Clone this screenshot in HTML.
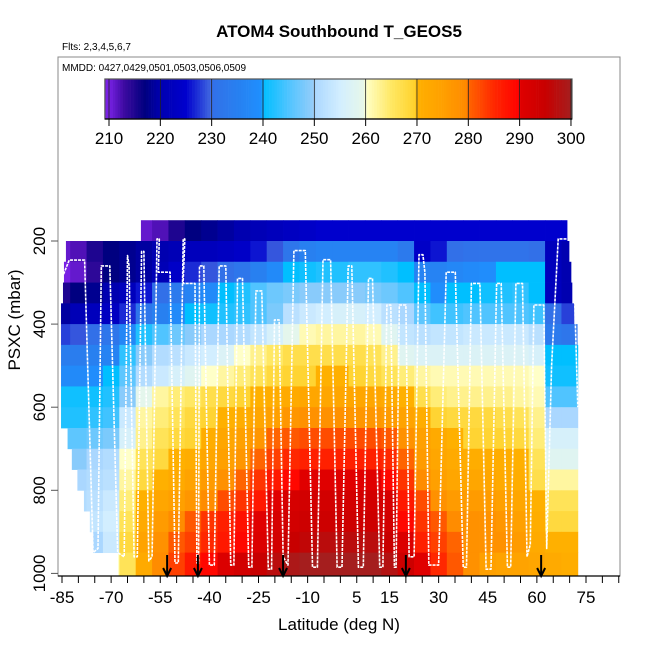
<!DOCTYPE html>
<html><head><meta charset="utf-8"><style>
html,body{margin:0;padding:0;background:#fff;}
svg{display:block;font-family:"Liberation Sans",Arial,sans-serif;}
</style></head><body>
<svg id="chart" width="650" height="650" viewBox="0 0 650 650">
<text x="339" y="37" text-anchor="middle" font-size="17" font-weight="bold">ATOM4 Southbound T_GEOS5</text>
<text x="62" y="50" font-size="10">Flts: 2,3,4,5,6,7</text>
<g id="heat"></g>
<g id="track"></g>
<g id="arrows"></g>
<rect x="58" y="57" width="562" height="519" fill="none" stroke="#888" stroke-width="1"/>
<line x1="58" y1="576" x2="620" y2="576" stroke="#000" stroke-width="1.2"/>
<text x="62" y="71" font-size="10">MMDD: 0427,0429,0501,0503,0506,0509</text>
<g id="cbar"></g>
<g id="xaxis"></g>
<g id="yaxis"></g>
<text x="339" y="630" text-anchor="middle" font-size="17">Latitude (deg N)</text>
<text transform="translate(20,320) rotate(-90)" text-anchor="middle" font-size="17">PSXC (mbar)</text>
</svg>
<script>
// ---- data ----
const latCenters=[-85,-80,-75,-70,-65,-60,-55,-50,-45,-40,-35,-30,-25,-20,-15,-10,-5,0,5,10,15,20,25,30,35,40,45,50,55,60,65,70];
const rowPressures=[175,225,275,325,375,425,475,525,575,625,675,725,775,825,875,925,975];
const rowStart=[-60.9,-83.8,-84.4,-84.7,-85.3,-85.3,-85.3,-85.3,-85.3,-85.3,-83.3,-82,-80.3,-78.3,-76.5,-75.5,-67.9];
const rowEnd=[69.2,69.8,70.4,70.7,71.3,72.3,73.2,73.2,73.2,73.2,73.2,73.2,73.2,73.2,73.2,73.2,72.9];
const temps=[
[212,212,212,212,212,211,212,215,217,218,219,220,221,222,223,224,225,225,225,225,225,225,225,225,225,225,225,225,225,225,225,225],
[211,212,215,217,218,219,220,221,222,222,223,224,226,229,232,235,236,236,236,236,236,233,224,226,230,231,231,231,231,230,222,220],
[210,211,214,217,218,219,221,224,227,229,230,232,235,238,240,241,242,242,243,243,242,240,236,236,237,238,239,240,240,240,222,220],
[215,217,218,220,222,226,230,233,236,238,240,242,245,247,248,249,249,249,249,248,247,245,240,239,240,240,241,242,243,240,222,220],
[219,221,222,223,227,232,235,238,240,241,242,243,245,248,252,254,255,256,256,255,252,250,246,244,244,245,245,245,245,244,230,228],
[228,229,230,232,237,242,245,247,249,250,250,251,253,256,259,261,262,262,262,261,258,253,252,253,253,254,254,254,254,252,233,232],
[234,234,235,236,243,249,251,252,254,255,257,260,263,265,267,267,267,267,267,266,263,258,257,257,257,257,257,257,257,256,240,240],
[238,238,239,240,246,251,254,256,258,260,262,264,266,268,269,269,270,270,269,268,266,264,262,261,261,261,261,261,261,260,241,241],
[241,241,241,242,249,259,262,264,265,267,268,269,270,271,272,273,273,273,273,273,272,270,267,264,263,263,263,263,262,261,245,245],
[242,242,243,244,254,262,264,266,268,269,270,271,273,275,277,278,278,278,277,277,276,274,271,269,268,268,268,267,266,263,250,250],
[246,246,247,248,256,263,266,268,269,271,273,275,277,280,281,282,282,282,282,282,281,278,275,272,270,269,269,269,268,264,256,256],
[249,249,250,251,260,266,268,270,271,273,275,277,280,283,285,286,286,286,286,286,285,280,276,273,272,271,271,271,270,266,258,258],
[250,250,251,252,262,268,270,272,274,276,278,280,284,287,289,290,290,290,290,290,289,284,279,275,273,273,273,272,271,267,262,262],
[251,251,252,254,264,270,273,275,277,279,282,284,287,290,292,293,293,293,293,293,292,287,282,278,276,276,276,275,273,270,266,266],
[252,252,253,255,266,272,276,279,281,284,286,288,290,292,293,294,294,294,294,294,293,289,284,281,279,278,278,277,275,271,268,268],
[247,247,250,254,268,274,278,281,283,285,287,289,291,293,295,296,297,297,297,297,295,291,286,283,280,278,278,278,276,272,270,270],
[260,260,260,260,266,272,279,283,287,289,291,293,295,297,299,300,300,300,300,300,298,294,290,285,281,278,275,274,274,273,272,271]
];
const trackLat=[-84.5,-82.8,-78.1,-75.5,-74,-73,-70.4,-68,-66,-65,-64.5,-63,-62,-60.7,-60,-58.5,-57.5,-56,-55.3,-55.6,-52,-50.5,-49.5,-48,-47.5,-48,-44.4,-43.8,-43.3,-43,-41.7,-40,-38.5,-37,-35,-33.5,-32.5,-31.4,-29.9,-28,-27,-25.8,-24,-22,-21,-20.1,-18.7,-17.5,-16,-14.2,-10.7,-8.5,-7,-5.3,-3,-1,0.5,2.4,3.5,5.5,7,8.6,9.8,12,13,14.2,15.4,16.5,17,18,20,21,22.5,24,25.2,25.8,27,30,32.3,35.1,37.5,38.5,40,42.6,44.5,46,47.7,49.1,51,52,53.6,55.6,57,58,59.1,62.1,63,64.5,66.5,71,72.5];
const trackP=[280,246,246,950,940,260,260,950,960,235,260,960,960,225,225,970,960,195,195,275,275,975,975,195,195,302,302,975,975,260,260,980,980,260,260,980,980,290,290,985,985,320,320,990,990,390,390,960,980,223,223,985,985,245,245,985,985,260,260,985,985,290,290,985,985,354,354,985,985,354,354,960,960,233,233,275,980,980,275,275,985,985,302,302,990,990,302,302,985,985,302,302,960,930,354,354,940,500,195,195,600];
const arrowLats=[-52.9,-43.5,-17.5,20,61.3];
const xTickLabels=[-85,-70,-55,-40,-25,-10,5,15,30,45,60,75];
const yTickLabels=[200,400,600,800,1000];
const cbarLabels=[210,220,230,240,250,260,270,280,290,300];

// ---- scales ----
const NS="http://www.w3.org/2000/svg";
function X(lat){return 62+(lat+85)*3.275;}
function Y(p){return 241+(p-200)*0.4155;}
function CB(v){return 109+(v-210)*5.133;}
const stops=[[205,[138,43,226]],[210,[120,32,228]],[213,[60,10,160]],[217,[0,0,128]],[220,[0,0,176]],[225,[0,0,205]],[229.9,[65,105,225]],[230,[50,112,232]],[235,[40,128,240]],[239.9,[30,144,255]],[240,[0,191,255]],[245,[80,196,255]],[249.9,[150,205,250]],[250,[170,215,255]],[255,[210,238,255]],[259.9,[232,248,232]],[260,[255,255,200]],[265,[255,232,100]],[269.9,[255,208,40]],[270,[255,176,0]],[275,[255,160,0]],[279.9,[255,136,0]],[280,[255,100,0]],[285,[255,40,0]],[289.9,[255,0,0]],[290,[224,0,0]],[295,[200,0,0]],[300,[165,30,30]]];
function col(v){
  if(v<=stops[0][0])return 'rgb('+stops[0][1]+')';
  for(let i=1;i<stops.length;i++){
    if(v<=stops[i][0]){const a=stops[i-1],b=stops[i];const t=(v-a[0])/(b[0]-a[0]);
      const c=a[1].map((q,k)=>Math.round(q+(b[1][k]-q)*t));return 'rgb('+c.join(',')+')';}
  }
  return 'rgb('+stops[stops.length-1][1]+')';
}
function mk(tag,attrs,parent){const e=document.createElementNS(NS,tag);for(const k in attrs)e.setAttribute(k,attrs[k]);parent.appendChild(e);return e;}

// ---- heatmap ----
const heat=document.getElementById('heat');
rowPressures.forEach((p,r)=>{
  const y0=Y(p-25), y1=(r===rowPressures.length-1)?576:Y(p+25);
  latCenters.forEach((lat,c)=>{
    const v=temps[r][c]; if(v==null)return;
    const a=Math.max(lat-2.5,rowStart[r]), b=Math.min(lat+2.5,rowEnd[r]);
    if(b<=a)return;
    const x0=X(a),x1=X(b);
    const e=mk('rect',{x:x0.toFixed(2),y:y0.toFixed(2),width:(x1-x0+0.4).toFixed(2),height:(y1-y0+0.4).toFixed(2),fill:col(v)},heat);
    
    
  });
});

// ---- track ----
const tr=document.getElementById('track');
const pts=trackLat.map((l,i)=>X(l).toFixed(1)+','+Y(trackP[i]).toFixed(1)).join(' ');
const pl=mk('polyline',{points:pts,fill:'none',stroke:'#fff','stroke-width':'1.6','stroke-dasharray':'3 1','stroke-linejoin':'round'},tr);



// ---- arrows ----
const ar=document.getElementById('arrows');
arrowLats.forEach(l=>{
  const x=X(l);
  const g=mk('g',{},ar);
  
  
  mk('line',{x1:x,y1:555,x2:x,y2:575,stroke:'#000','stroke-width':'2'},g);
  mk('polyline',{points:(x-4)+',568 '+x+',576 '+(x+4)+',568',fill:'none',stroke:'#000','stroke-width':'2'},g);
});

// ---- colorbar ----
const cb=document.getElementById('cbar');
for(let v=209.2;v<300.2;v+=0.5){
  const e=mk('rect',{x:CB(v).toFixed(2),y:79,width:(5.133*0.5+0.3).toFixed(2),height:40,fill:col(v+0.25)},cb);
  
  
}
mk('rect',{x:CB(209.2),y:79,width:CB(300.2)-CB(209.2),height:40,fill:'none',stroke:'#555','stroke-width':'1.2'},cb);
cbarLabels.forEach(v=>{
  const x=CB(v);
  mk('line',{x1:x,y1:79,x2:x,y2:119,stroke:'#222','stroke-width':'0.8'},cb);
  mk('line',{x1:x,y1:119,x2:x,y2:126,stroke:'#000','stroke-width':'1'},cb);
  const t=mk('text',{x:x,y:144,'text-anchor':'middle','font-size':'17'},cb);
  t.textContent=v;
  
  
});
mk('line',{x1:CB(209.2),y1:119,x2:CB(300.2),y2:119,stroke:'#000','stroke-width':'1.2'},cb);

// ---- axes ----
const xa=document.getElementById('xaxis');
for(let l=-85;l<=85;l+=5){
  const x=X(l); if(x>620)break;
  mk('line',{x1:x,y1:576,x2:x,y2:583,stroke:'#000','stroke-width':'1'},xa);
}
xTickLabels.forEach(l=>{
  const t=mk('text',{x:X(l),y:603,'text-anchor':'middle','font-size':'17'},xa);
  t.textContent=l;
  
  
});
const ya=document.getElementById('yaxis');
yTickLabels.forEach(p=>{
  const y=Y(p);
  mk('line',{x1:51,y1:y,x2:58,y2:y,stroke:'#555','stroke-width':'1'},ya);
  const t=mk('text',{'text-anchor':'middle','font-size':'17',transform:'translate(45,'+y.toFixed(1)+') rotate(-90)'},ya);
  t.textContent=p;
  
  
});
</script>
</body></html>
